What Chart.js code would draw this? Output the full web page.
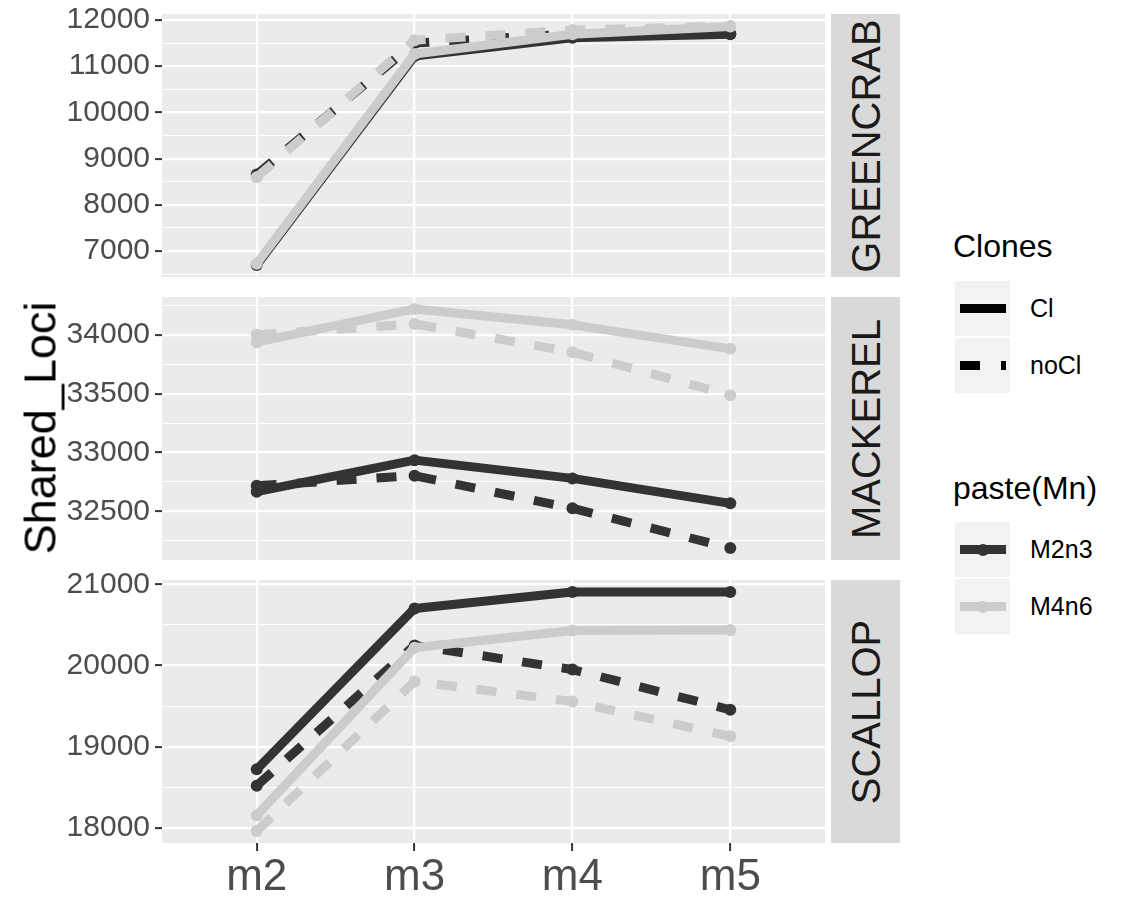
<!DOCTYPE html>
<html><head><meta charset="utf-8">
<script src="https://cdn.jsdelivr.net/npm/chart.js@4/dist/chart.umd.min.js"></script>
<style>
html,body{margin:0;padding:0;background:#fff;}
body{width:1125px;height:898px;position:relative;overflow:hidden;font-family:"Liberation Sans",Arial,sans-serif;}
canvas{position:absolute;left:0;}
.strip{position:absolute;left:831px;width:69px;height:263px;background:#D9D9D9;}
.strip span{position:absolute;left:50%;top:50%;transform:translate(-50%,-50%) rotate(-90deg);white-space:nowrap;color:#1A1A1A;font-size:40px;line-height:40px;}
.ytitle{position:absolute;left:40px;top:428px;transform:translate(-50%,-50%) rotate(-90deg);white-space:nowrap;font-size:45px;line-height:45px;color:#000;}
.ltitle{position:absolute;left:953px;font-size:32px;line-height:32px;color:#000;white-space:nowrap;}
.key{position:absolute;left:955px;width:55px;height:55px;background:#F2F2F2;}
.kl{position:absolute;height:9px;top:23px;}
.kp{position:absolute;width:12px;height:12px;border-radius:6px;left:21.5px;top:21.5px;}
.lab{position:absolute;left:1030px;font-size:25px;line-height:55px;height:55px;color:#000;white-space:nowrap;}
</style>
</head><body>
<canvas id="c0" width="831" height="323"></canvas>
<canvas id="c1" width="831" height="323"></canvas>
<canvas id="c2" width="831" height="348"></canvas>
<div class="strip" style="top:14px"><span>GREENCRAB</span></div>
<div class="strip" style="top:297px"><span>MACKEREL</span></div>
<div class="strip" style="top:580px"><span>SCALLOP</span></div>
<div class="ytitle">Shared_Loci</div>

<div class="ltitle" style="top:230px">Clones</div>
<div class="key" style="top:281px"><div class="kl" style="left:5px;width:46px;background:#000"></div></div>
<div class="lab" style="top:281px">Cl</div>
<div class="key" style="top:338px"><div class="kl" style="left:5px;width:20px;background:#000"></div><div class="kl" style="left:46px;width:5px;background:#000"></div></div>
<div class="lab" style="top:338px">noCl</div>

<div class="ltitle" style="top:472px">paste(Mn)</div>
<div class="key" style="top:522px"><div class="kl" style="left:5px;width:46px;background:#333333"></div><div class="kp" style="background:#333333"></div></div>
<div class="lab" style="top:522px">M2n3</div>
<div class="key" style="top:579px"><div class="kl" style="left:5px;width:46px;background:#CCCCCC"></div><div class="kp" style="background:#CCCCCC"></div></div>
<div class="lab" style="top:579px">M4n6</div>

<script>
// ---- data ----
const categories = ['m2', 'm3', 'm4', 'm5'];
const panels = ['GREENCRAB', 'MACKEREL', 'SCALLOP'];

const greencrab_M2n3_Cl   = [6700, 11220, 11615, 11690];
const greencrab_M2n3_noCl = [8660, 11500, 11700, 11700];
const greencrab_M4n6_Cl   = [6730, 11265, 11690, 11860];
const greencrab_M4n6_noCl = [8600, 11560, 11780, 11870];

const mackerel_M2n3_Cl   = [32667, 32935, 32780, 32568];
const mackerel_M2n3_noCl = [32718, 32803, 32526, 32188];
const mackerel_M4n6_Cl   = [33938, 34220, 34085, 33881];
const mackerel_M4n6_noCl = [34000, 34093, 33853, 33486];

const scallop_M2n3_Cl   = [18723, 20703, 20906, 20906];
const scallop_M2n3_noCl = [18521, 20248, 19951, 19455];
const scallop_M4n6_Cl   = [18155, 20220, 20431, 20439];
const scallop_M4n6_noCl = [17963, 19805, 19557, 19130];

const greencrabTicks = [7000, 8000, 9000, 10000, 11000, 12000];
const mackerelTicks  = [32500, 33000, 33500, 34000];
const scallopTicks   = [18000, 19000, 20000, 21000];

// ---- styling ----
const DARK = '#333333', LIGHT = '#CCCCCC';
const PANEL_TOPS = [14, 297, 580], PANEL_H = 263, PAD = 30;

const bgPlugin = {
  id: 'panelbg',
  beforeDraw(chart) {
    const a = chart.chartArea, c = chart.ctx;
    c.save(); c.fillStyle = '#EBEBEB';
    c.fillRect(a.left, a.top, a.right - a.left, a.bottom - a.top);
    c.restore();
  }
};

function ds(label, vals, color, dashed, order) {
  return {
    label, order,
    data: vals.map((v, i) => ({x: i, y: v})),
    borderColor: color, backgroundColor: color,
    pointBackgroundColor: color, pointBorderWidth: 0, pointRadius: 6,
    borderWidth: 9, borderDash: dashed ? [20, 20] : [],
    borderCapStyle: 'butt', borderJoinStyle: 'round', tension: 0
  };
}

function makePanel(idx, series, majors, showX) {
  const all = series.flat();
  const lo = Math.min(...all), hi = Math.max(...all);
  const e = (hi - lo) * 0.05;
  const ymin = lo - e, ymax = hi + e;
  const step = majors[1] - majors[0];
  const cand = [majors[0] - step / 2, ...majors.map(v => v + step / 2)];
  const minors = cand.filter(v => v > ymin && v < ymax);
  const allTicks = [...majors, ...minors].filter(v => v >= ymin && v <= ymax).sort((a, b) => a - b);
  const isMajor = v => majors.includes(v);

  const cv = document.getElementById('c' + idx);
  cv.style.top = (PANEL_TOPS[idx] - PAD) + 'px';

  new Chart(cv, {
    type: 'line',
    data: {
      datasets: [
        ds('M2n3 Cl', series[0], DARK, false, 4),
        ds('M2n3 noCl', series[1], DARK, true, 3),
        ds('M4n6 Cl', series[2], LIGHT, false, 2),
        ds('M4n6 noCl', series[3], LIGHT, true, 1)
      ]
    },
    plugins: [bgPlugin],
    options: {
      responsive: false, maintainAspectRatio: false, animation: false,
      layout: {padding: {top: PAD, bottom: showX ? 0 : PAD, left: 0, right: 0}},
      plugins: {legend: {display: false}, tooltip: {enabled: false}},
      scales: {
        x: {
          type: 'linear', min: -0.6, max: 3.6,
          afterBuildTicks: s => { s.ticks = categories.map((c, i) => ({value: i})); },
          afterFit: s => { s.height = showX ? 55 : 0; },
          border: {display: false},
          grid: {color: '#FFFFFF', lineWidth: 2.2, drawTicks: showX, tickLength: 8, tickColor: '#333333', tickWidth: 2},
          ticks: {
            display: showX, autoSkip: false, maxRotation: 0, padding: 0,
            color: '#4D4D4D', font: {size: 44, family: 'Liberation Sans'},
            callback: (v, i) => categories[i]
          }
        },
        y: {
          type: 'linear', min: ymin, max: ymax,
          afterBuildTicks: s => { s.ticks = allTicks.map(v => ({value: v})); },
          afterFit: s => { s.width = 162; },
          border: {display: false},
          grid: {
            color: '#FFFFFF',
            lineWidth: ctx => (ctx.tick && isMajor(ctx.tick.value)) ? 2.2 : 1.1,
            tickColor: ctx => (ctx.tick && isMajor(ctx.tick.value)) ? '#333333' : 'rgba(0,0,0,0)',
            tickLength: 7, tickWidth: 2
          },
          ticks: {
            autoSkip: false, padding: 5, color: '#4D4D4D',
            font: {size: 30, family: 'Liberation Sans'},
            callback: v => isMajor(v) ? String(v) : ''
          }
        }
      }
    }
  });
}

makePanel(0, [greencrab_M2n3_Cl, greencrab_M2n3_noCl, greencrab_M4n6_Cl, greencrab_M4n6_noCl], greencrabTicks, false);
makePanel(1, [mackerel_M2n3_Cl, mackerel_M2n3_noCl, mackerel_M4n6_Cl, mackerel_M4n6_noCl], mackerelTicks, false);
makePanel(2, [scallop_M2n3_Cl, scallop_M2n3_noCl, scallop_M4n6_Cl, scallop_M4n6_noCl], scallopTicks, true);
</script>
</body></html>
